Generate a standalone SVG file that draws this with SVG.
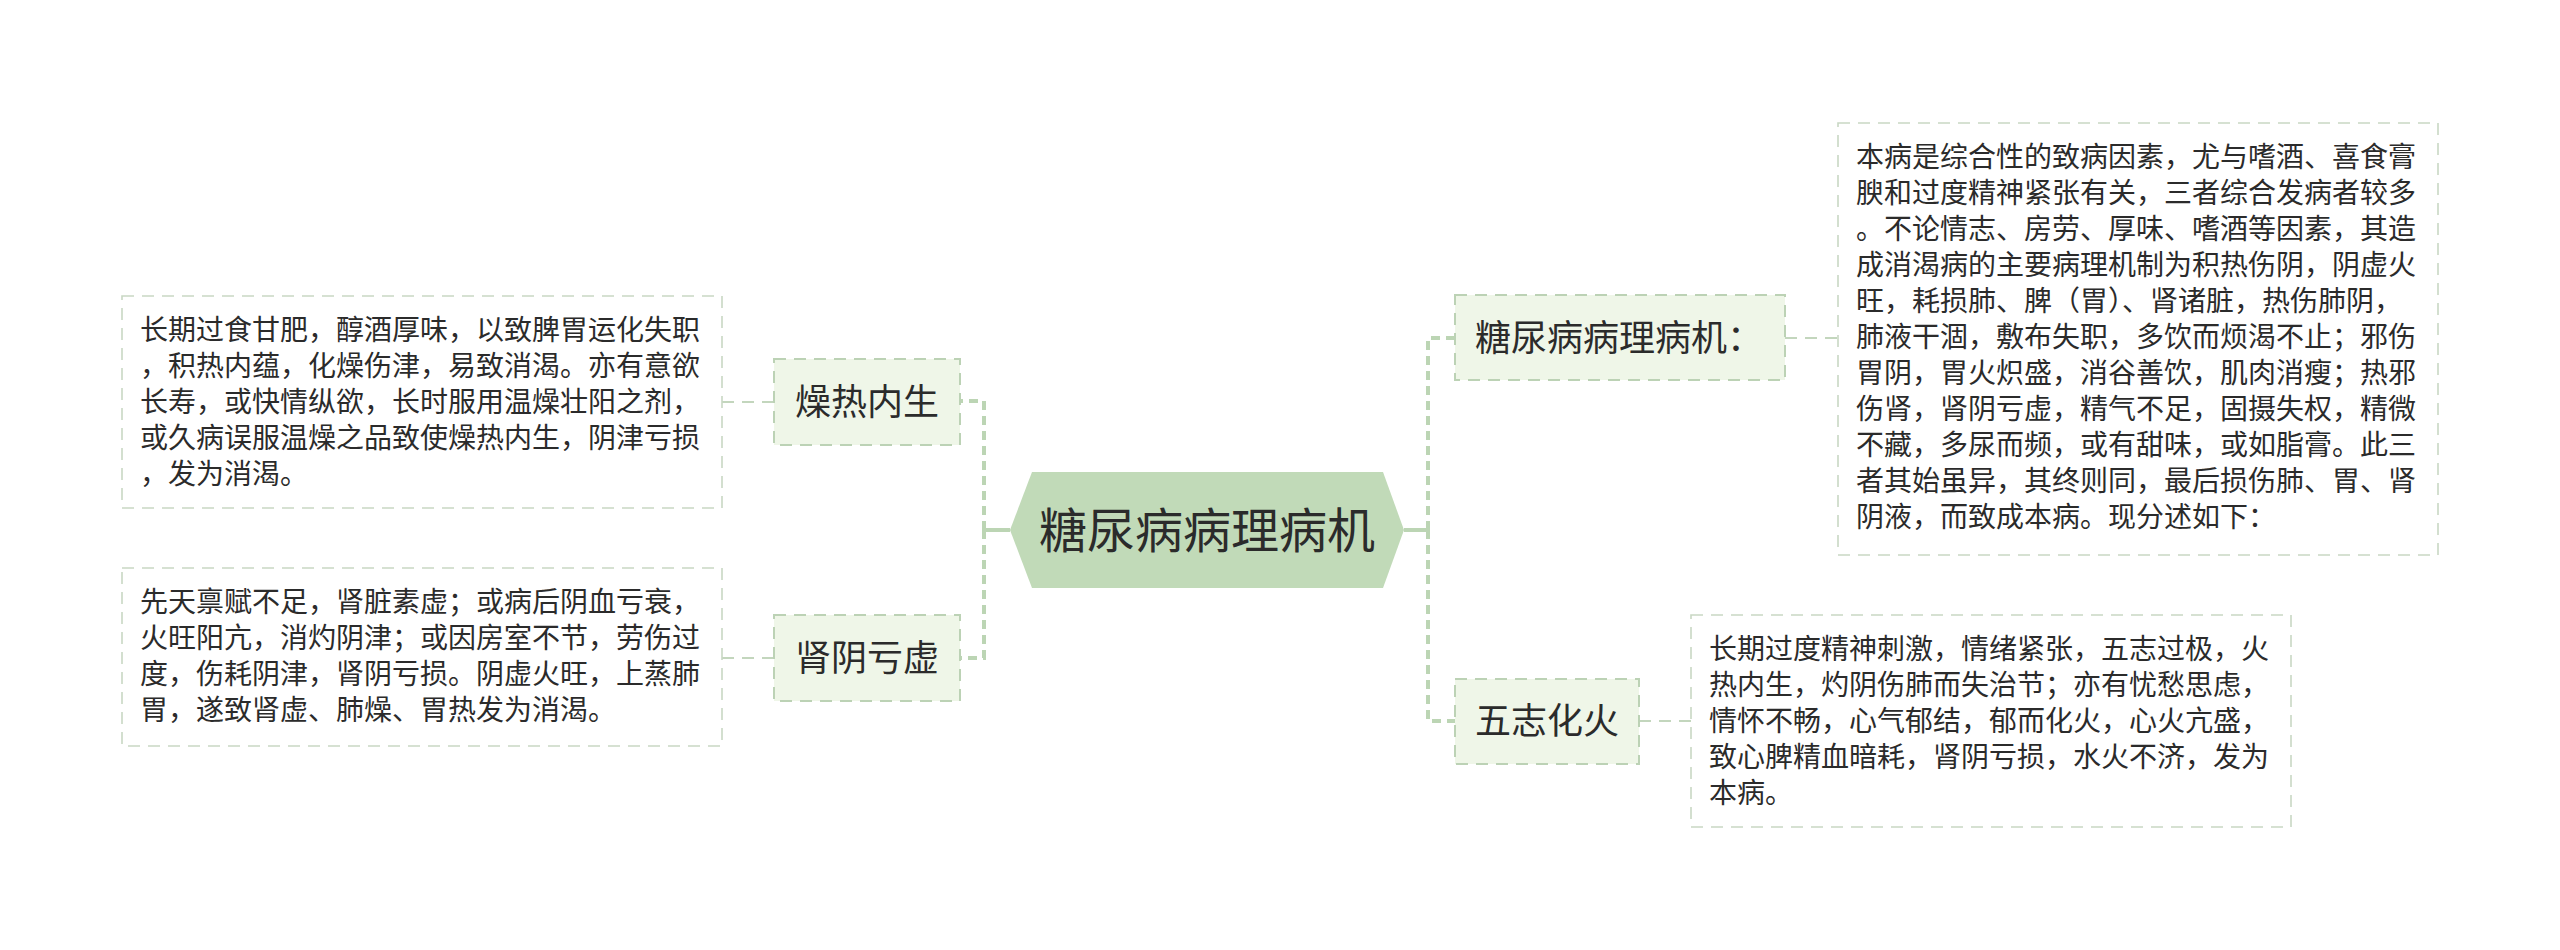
<svg xmlns="http://www.w3.org/2000/svg" width="2560" height="950" viewBox="0 0 2560 950">
<style>
.bg{fill:#ffffff}
.hex{fill:#c1dab8}
.node{fill:#eff6e8;stroke:#bcd2b5;stroke-width:2;stroke-dasharray:12 8}
.note{fill:#ffffff;stroke:#c9d8c4;stroke-width:1.6;stroke-dasharray:12 8}
.trunk{fill:none;stroke:#bcd5b4;stroke-width:4}
.branch{fill:none;stroke:#bcd5b4;stroke-width:4;stroke-dasharray:9 6}
.link{fill:none;stroke:#c3d6bd;stroke-width:2;stroke-dasharray:12 8}
text{font-family:"Noto Sans CJK SC","Noto Sans",sans-serif;fill:#2b2b2b}
.t48{font-size:48px}
.t36{font-size:36px}
.t28{font-size:28px}
</style>
<rect class="bg" x="0" y="0" width="2560" height="950"/>
<g id="connectors">
<path class="trunk" d="M1010 530 H984"/>
<path class="branch" d="M984 530 V401 H960"/>
<path class="branch" d="M984 530 V658 H960"/>
<path class="trunk" d="M1404 530 H1428"/>
<path class="branch" d="M1428 530 V338 H1455"/>
<path class="branch" d="M1428 530 V721 H1455"/>
<path class="link" d="M774 402 H722"/>
<path class="link" d="M774 658 H722"/>
<path class="link" d="M1785 338 H1838"/>
<path class="link" d="M1639 721 H1691"/>
</g>
<g id="root">
<polygon class="hex" points="1010,530 1032,472 1383,472 1404,530 1383,588 1032,588"/>
<text class="t48" x="1207" y="548" text-anchor="middle">糖尿病病理病机</text>
</g>
<g id="node-zaore">
<rect class="node" x="774" y="359" width="186" height="86"/>
<text class="t36" x="795" y="415">燥热内生</text>
</g>
<g id="node-shenyin">
<rect class="node" x="774" y="615" width="186" height="86"/>
<text class="t36" x="795" y="671">肾阴亏虚</text>
</g>
<g id="node-bingji">
<rect class="node" x="1455" y="295" width="330" height="85"/>
<text class="t36" x="1475" y="351">糖尿病病理病机：</text>
</g>
<g id="node-wuzhi">
<rect class="node" x="1455" y="679" width="184" height="85"/>
<text class="t36" x="1475" y="734">五志化火</text>
</g>
<g id="note-zaore">
<rect class="note" x="122" y="296" width="600" height="212"/>
<text class="t28" x="140">
<tspan x="140" y="340">长期过食甘肥，醇酒厚味，以致脾胃运化失职</tspan>
<tspan x="140" y="376">，积热内蕴，化燥伤津，易致消渴。亦有意欲</tspan>
<tspan x="140" y="412">长寿，或快情纵欲，长时服用温燥壮阳之剂，</tspan>
<tspan x="140" y="448">或久病误服温燥之品致使燥热内生，阴津亏损</tspan>
<tspan x="140" y="484">，发为消渴。</tspan>
</text>
</g>
<g id="note-shenyin">
<rect class="note" x="122" y="568" width="600" height="178"/>
<text class="t28" x="140">
<tspan x="140" y="612">先天禀赋不足，肾脏素虚；或病后阴血亏衰，</tspan>
<tspan x="140" y="648">火旺阳亢，消灼阴津；或因房室不节，劳伤过</tspan>
<tspan x="140" y="684">度，伤耗阴津，肾阴亏损。阴虚火旺，上蒸肺</tspan>
<tspan x="140" y="720">胃，遂致肾虚、肺燥、胃热发为消渴。</tspan>
</text>
</g>
<g id="note-bingji">
<rect class="note" x="1838" y="123" width="600" height="432"/>
<text class="t28" x="1856">
<tspan x="1856" y="167">本病是综合性的致病因素，尤与嗜酒、喜食膏</tspan>
<tspan x="1856" y="203">腴和过度精神紧张有关，三者综合发病者较多</tspan>
<tspan x="1856" y="239">。不论情志、房劳、厚味、嗜酒等因素，其造</tspan>
<tspan x="1856" y="275">成消渴病的主要病理机制为积热伤阴，阴虚火</tspan>
<tspan x="1856" y="311">旺，耗损肺、脾（胃）、肾诸脏，热伤肺阴，</tspan>
<tspan x="1856" y="347">肺液干涸，敷布失职，多饮而烦渴不止；邪伤</tspan>
<tspan x="1856" y="383">胃阴，胃火炽盛，消谷善饮，肌肉消瘦；热邪</tspan>
<tspan x="1856" y="419">伤肾，肾阴亏虚，精气不足，固摄失权，精微</tspan>
<tspan x="1856" y="455">不藏，多尿而频，或有甜味，或如脂膏。此三</tspan>
<tspan x="1856" y="491">者其始虽异，其终则同，最后损伤肺、胃、肾</tspan>
<tspan x="1856" y="527">阴液，而致成本病。现分述如下：</tspan>
</text>
</g>
<g id="note-wuzhi">
<rect class="note" x="1691" y="615" width="600" height="212"/>
<text class="t28" x="1709">
<tspan x="1709" y="659">长期过度精神刺激，情绪紧张，五志过极，火</tspan>
<tspan x="1709" y="695">热内生，灼阴伤肺而失治节；亦有忧愁思虑，</tspan>
<tspan x="1709" y="731">情怀不畅，心气郁结，郁而化火，心火亢盛，</tspan>
<tspan x="1709" y="767">致心脾精血暗耗，肾阴亏损，水火不济，发为</tspan>
<tspan x="1709" y="803">本病。</tspan>
</text>
</g>
</svg>
